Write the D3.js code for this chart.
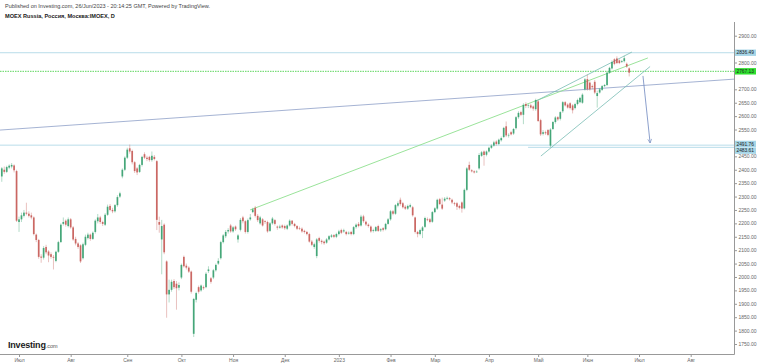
<!DOCTYPE html>
<html>
<head>
<meta charset="utf-8">
<script src="https://cdn.jsdelivr.net/npm/d3@7"></script>
<style>
  body { margin: 0; background: #fff; }
  svg { display: block; font-family: "Liberation Sans", Arial, sans-serif; }
</style>
</head>
<body>
<div id="chart"></div>
<script>
// ---- data ----
var firstDay = "2022-06-22";
var holidays = ["2022-11-04", "2023-01-02", "2023-02-23", "2023-02-24", "2023-03-08",
                "2023-05-01", "2023-05-08", "2023-05-09", "2023-06-12"];
var monthNames = ["Янв", "Фев", "Мар", "Апр", "Май", "Июн", "Июл", "Авг", "Сен", "Окт", "Ноя", "Дек"];
var yTicks = d3.range(1750, 2901, 50);

// daily candles, [open, high, low, close]
var ohlc = [
  [2375,2410,2355,2405],[2400,2412,2385,2392],[2392,2415,2388,2410],[2408,2420,2402,2415],[2412,2425,2405,2418],
  [2416,2420,2390,2398],[2395,2400,2205,2210],[2205,2225,2168,2215],[2215,2240,2205,2230],[2228,2250,2222,2240],
  [2240,2277,2230,2236],[2236,2245,2222,2228],[2230,2240,2215,2222],[2222,2226,2155,2160],[2158,2162,2130,2138],
  [2138,2142,2068,2075],[2076,2085,2053,2072],[2072,2115,2065,2108],[2112,2120,2085,2092],[2095,2100,2055,2080],
  [2085,2092,2068,2075],[2075,2082,2028,2072],[2060,2098,2055,2094],[2094,2135,2090,2130],[2130,2200,2128,2195],
  [2198,2222,2192,2205],[2210,2215,2188,2195],[2190,2222,2185,2215],[2215,2220,2180,2185],[2185,2190,2135,2140],
  [2142,2150,2118,2125],[2125,2130,2105,2112],[2118,2122,2052,2058],[2070,2128,2065,2122],[2120,2158,2115,2150],
  [2145,2165,2140,2158],[2158,2162,2135,2142],[2142,2170,2138,2165],[2168,2215,2162,2210],[2208,2235,2200,2222],
  [2222,2228,2198,2205],[2205,2210,2190,2198],[2195,2238,2190,2232],[2232,2270,2228,2262],[2265,2272,2245,2250],
  [2250,2258,2238,2245],[2245,2272,2240,2268],[2268,2305,2262,2298],[2300,2318,2295,2312],[2375,2405,2368,2400],
  [2400,2450,2395,2445],[2445,2482,2440,2475],[2480,2494,2460,2468],[2470,2475,2420,2428],[2428,2432,2388,2395],
  [2405,2410,2380,2390],[2392,2422,2388,2418],[2418,2452,2412,2448],[2458,2465,2440,2445],[2445,2452,2432,2440],
  [2448,2452,2430,2436],[2436,2468,2430,2452],[2448,2455,2435,2440],[2432,2436,2175,2213],[2205,2225,2165,2195],
  [2140,2213,2010,2190],[2195,2200,2085,2092],[2058,2062,1848,1935],[1935,1990,1905,1952],[1952,1990,1945,1982],
  [1985,1992,1955,1962],[1975,1985,1878,1958],[1960,1980,1950,1970],[1998,2050,1992,2045],[2075,2080,2035,2040],
  [2042,2050,2028,2035],[2035,2040,2015,2020],[2020,2024,1938,1945],[1788,1922,1776,1918],[1915,1945,1905,1940],
  [1962,1968,1938,1945],[1950,1972,1945,1968],[1962,1968,1952,1958],[1962,2018,1958,2012],[2022,2040,2015,2028],
  [1995,2000,1975,1982],[1998,2030,1992,2025],[2025,2050,2020,2045],[2050,2070,2045,2060],[2070,2135,2065,2130],
  [2130,2160,2125,2155],[2152,2175,2145,2168],[2170,2182,2162,2175],[2192,2198,2165,2170],[2170,2190,2165,2185],
  [2188,2192,2172,2178],[2140,2160,2128,2155],[2176,2220,2170,2213],[2222,2228,2200,2208],[2208,2212,2162,2168],
  [2168,2218,2162,2212],[2215,2235,2210,2222],[2242,2258,2238,2252],[2258,2265,2222,2228],[2228,2235,2205,2212],
  [2200,2228,2195,2222],[2215,2220,2188,2192],[2208,2212,2198,2205],[2205,2210,2165,2170],[2172,2205,2168,2200],
  [2200,2224,2195,2218],[2212,2216,2192,2198],[2188,2192,2176,2184],[2184,2195,2180,2188],[2192,2196,2180,2185],
  [2190,2195,2176,2182],[2180,2196,2175,2192],[2192,2215,2188,2210],[2210,2212,2192,2198],[2198,2202,2185,2190],
  [2190,2194,2175,2180],[2182,2188,2175,2180],[2180,2185,2165,2170],[2172,2176,2162,2168],[2168,2172,2155,2160],
  [2160,2165,2128,2132],[2132,2138,2115,2120],[2112,2128,2105,2122],[2078,2145,2070,2140],[2145,2150,2128,2135],
  [2135,2140,2122,2130],[2132,2136,2120,2126],[2128,2145,2124,2140],[2140,2156,2136,2152],[2150,2160,2146,2155],
  [2156,2160,2145,2150],[2150,2165,2145,2160],[2160,2176,2155,2170],[2175,2180,2160,2165],[2170,2180,2165,2174],
  [2168,2172,2155,2160],[2162,2170,2158,2165],[2168,2172,2155,2160],[2160,2190,2156,2186],[2186,2200,2180,2195],
  [2198,2205,2185,2190],[2192,2232,2188,2225],[2226,2232,2202,2208],[2206,2210,2190,2196],[2195,2200,2184,2190],
  [2188,2192,2165,2170],[2172,2180,2166,2175],[2172,2190,2168,2186],[2190,2195,2168,2172],[2174,2182,2168,2178],
  [2182,2186,2170,2176],[2178,2202,2174,2198],[2198,2220,2195,2215],[2215,2250,2210,2245],[2245,2250,2230,2236],
  [2236,2272,2232,2268],[2266,2282,2260,2275],[2288,2296,2266,2272],[2275,2280,2255,2260],[2262,2268,2250,2255],
  [2255,2270,2250,2265],[2262,2274,2258,2268],[2260,2265,2225,2230],[2222,2225,2162,2168],[2168,2172,2148,2160],
  [2160,2180,2155,2175],[2172,2190,2145,2185],[2187,2225,2183,2220],[2215,2222,2208,2212],[2215,2220,2200,2205],
  [2206,2246,2202,2242],[2242,2260,2238,2256],[2255,2292,2250,2288],[2290,2295,2268,2272],[2270,2296,2250,2255],
  [2285,2298,2280,2292],[2292,2300,2288,2295],[2294,2298,2285,2290],[2288,2292,2272,2278],[2275,2280,2266,2272],
  [2275,2280,2250,2262],[2265,2270,2252,2258],[2278,2282,2240,2255],[2256,2330,2252,2325],[2325,2410,2320,2405],
  [2418,2430,2395,2400],[2398,2402,2390,2394],[2394,2398,2386,2390],[2392,2398,2388,2393],[2405,2462,2400,2455],
  [2452,2470,2448,2465],[2468,2472,2415,2455],[2456,2472,2450,2468],[2468,2486,2464,2482],[2482,2495,2478,2490],
  [2490,2508,2486,2502],[2505,2510,2490,2496],[2496,2516,2492,2512],[2510,2524,2505,2518],[2522,2560,2518,2556],
  [2562,2580,2522,2528],[2528,2536,2520,2530],[2540,2545,2528,2532],[2535,2556,2530,2552],[2555,2600,2550,2596],
  [2596,2618,2590,2612],[2615,2620,2600,2605],[2605,2648,2570,2642],[2645,2652,2630,2638],[2638,2645,2630,2640],
  [2640,2646,2628,2632],[2636,2640,2620,2628],[2626,2665,2620,2660],[2655,2660,2578,2582],[2585,2590,2526,2532],
  [2534,2548,2528,2540],[2540,2546,2530,2536],[2548,2552,2525,2530],[2490,2555,2484,2550],[2552,2582,2548,2578],
  [2578,2600,2572,2595],[2596,2600,2582,2588],[2590,2618,2584,2615],[2618,2656,2612,2652],[2652,2656,2636,2640],
  [2643,2648,2628,2632],[2648,2652,2625,2630],[2640,2645,2610,2622],[2630,2650,2625,2645],[2645,2665,2640,2660],
  [2652,2672,2648,2668],[2650,2685,2646,2680],[2700,2742,2695,2737],[2738,2755,2695,2700],[2725,2730,2695,2700],
  [2712,2718,2700,2708],[2728,2735,2682,2688],[2675,2695,2632,2686],[2688,2705,2684,2700],[2698,2716,2694,2712],
  [2712,2720,2708,2716],[2716,2766,2712,2762],[2762,2784,2758,2780],[2778,2808,2774,2802],[2812,2816,2790,2795],
  [2815,2823,2794,2798],[2808,2812,2794,2798],[2802,2810,2798,2805],[2805,2825,2800,2816],[2795,2800,2780,2785],
  [2778,2782,2748,2762]
];

// horizontal levels with price labels on the axis
var levels = [2836.49, 2767.13, 2491.76, 2483.61];
// drawn lines, [bar index, price] end points
var longLine = [[-0.73, 2548], [297.6, 2738]];
var greenLine = [[100.9, 2250], [262.6, 2817]];
var channelTop = [[217.1, 2656], [256.1, 2839]];
var channelBottom = [[219.1, 2451], [263.5, 2785]];
var arrowLine = [[260.6, 2750], [263.5, 2500]];
var shortLevelStart = 213.9;

// ---- layout ----
var width = 758, height = 364;
var plotRight = 734, plotTop = 22, plotBottom = 354;

var svg = d3.select("#chart").append("svg")
    .attr("width", width)
    .attr("height", height);

// trading days (weekdays without exchange holidays)
var parseDay = d3.utcParse("%Y-%m-%d"), fmtDay = d3.utcFormat("%Y-%m-%d");
var days = [];
var d = parseDay(firstDay);
while (days.length < 300) {
    var wd = d.getUTCDay();
    if (wd !== 0 && wd !== 6 && holidays.indexOf(fmtDay(d)) < 0) days.push(d);
    d = d3.utcDay.offset(d, 1);
}

var x = d3.scaleLinear().domain([-0.73, 297.6]).range([0, plotRight]);
var y = d3.scaleLinear().domain([1750, 2900]).range([344, 35.7]);

svg.append("clipPath").attr("id", "clip")
    .append("rect").attr("x", 0).attr("y", plotTop)
    .attr("width", plotRight).attr("height", plotBottom - plotTop);

// ---- header ----
svg.append("text").attr("x", 5).attr("y", 8)
    .attr("font-size", 5.5).attr("fill", "#444")
    .text("Published on Investing.com, 26/Jun/2023 - 20:14:25 GMT, Powered by TradingView.");
svg.append("text").attr("x", 5).attr("y", 18)
    .attr("font-size", 5.6).attr("font-weight", "bold").attr("fill", "#222")
    .text("MOEX Russia, Россия, Москва:IMOEX, D");

var plot = svg.append("g").attr("clip-path", "url(#clip)");

// ---- drawn lines ----
var line = d3.line().x(function (p) { return x(p[0]); }).y(function (p) { return y(p[1]); });

levels.forEach(function (v, i) {
    plot.append("line")
        .attr("x1", i === 3 ? x(shortLevelStart) : 0).attr("x2", plotRight)
        .attr("y1", y(v)).attr("y2", y(v))
        .attr("stroke", i === 1 ? "#5fd65f" : "#a6d3e3")
        .attr("stroke-width", i === 1 ? 1 : 0.8)
        .attr("stroke-dasharray", i === 1 ? "1.5,1" : null);
});

plot.append("path").attr("d", line(longLine))
    .attr("fill", "none").attr("stroke", "#8ea0c8").attr("stroke-width", 0.8);
plot.append("path").attr("d", line(greenLine))
    .attr("fill", "none").attr("stroke", "#8fe08f").attr("stroke-width", 0.9);
plot.append("path").attr("d", line(channelTop))
    .attr("fill", "none").attr("stroke", "#78bcb4").attr("stroke-width", 0.8);
plot.append("path").attr("d", line(channelBottom))
    .attr("fill", "none").attr("stroke", "#78bcb4").attr("stroke-width", 0.8);

svg.append("defs").append("marker")
    .attr("id", "arrow").attr("viewBox", "0 0 10 10")
    .attr("refX", 9).attr("refY", 5)
    .attr("markerWidth", 6).attr("markerHeight", 6)
    .attr("orient", "auto")
    .append("path").attr("d", "M1,1L9,5L1,9")
    .attr("fill", "none").attr("stroke", "#6f88bf").attr("stroke-width", 1.3);
plot.append("path").attr("d", line(arrowLine))
    .attr("fill", "none").attr("stroke", "#6f88bf").attr("stroke-width", 0.8)
    .attr("marker-end", "url(#arrow)");

// ---- candles ----
var upColor = "#37a06f", downColor = "#c65c58";
var candle = plot.selectAll(".candle")
    .data(ohlc)
    .enter()
    .append("g")
    .attr("class", "candle");

candle.append("line")
    .attr("x1", function (c, i) { return x(i); })
    .attr("x2", function (c, i) { return x(i); })
    .attr("y1", function (c) { return y(c[1]); })
    .attr("y2", function (c) { return y(c[2]); })
    .attr("stroke", function (c) { return c[3] >= c[0] ? upColor : downColor; })
    .attr("stroke-opacity", 0.55)
    .attr("stroke-width", 0.7);

candle.append("rect")
    .attr("x", function (c, i) { return x(i) - 0.85; })
    .attr("width", 1.7)
    .attr("y", function (c) { return y(Math.max(c[0], c[3])); })
    .attr("height", function (c) { return Math.max(0.6, Math.abs(y(c[0]) - y(c[3]))); })
    .attr("fill", function (c) { return c[3] >= c[0] ? upColor : downColor; })
    .attr("fill-opacity", 0.9);

// ---- axes ----
svg.append("line").attr("x1", plotRight + 0.5).attr("x2", plotRight + 0.5)
    .attr("y1", plotTop).attr("y2", plotBottom + 0.5)
    .attr("stroke", "#999").attr("stroke-width", 1);
svg.append("line").attr("x1", 0).attr("x2", plotRight + 0.5)
    .attr("y1", plotBottom + 0.5).attr("y2", plotBottom + 0.5)
    .attr("stroke", "#999").attr("stroke-width", 1);

// price ticks hidden where a level label sits on top of them
var shownTicks = yTicks.filter(function (t) {
    return levels.every(function (v) { return Math.abs(y(t) - y(v)) > 6; });
});
var yAxis = svg.append("g")
    .attr("transform", "translate(" + (plotRight + 0.5) + ",0)")
    .call(d3.axisRight(y).tickValues(shownTicks).tickSize(2.5).tickPadding(1.5)
        .tickFormat(d3.format(".2f")));
yAxis.select(".domain").remove();
yAxis.selectAll("line").attr("stroke", "#999");
yAxis.selectAll("text").attr("font-size", 5).attr("fill", "#666")
    .attr("font-family", "'Liberation Sans', Arial, sans-serif");

// month ticks at the first trading day of each month
var monthTicks = [];
for (var i = 1; i < days.length; i++) {
    if (days[i].getUTCMonth() !== days[i - 1].getUTCMonth() && x(i) < plotRight) monthTicks.push(i);
}
var xAxis = svg.append("g")
    .attr("transform", "translate(0," + (plotBottom + 0.5) + ")")
    .call(d3.axisBottom(x).tickValues(monthTicks).tickSize(2.5).tickPadding(1)
        .tickFormat(function (i) {
            var m = days[i].getUTCMonth();
            return m === 0 ? String(days[i].getUTCFullYear()) : monthNames[m];
        }));
xAxis.select(".domain").remove();
xAxis.selectAll("line").attr("stroke", "#999");
xAxis.selectAll("text").attr("font-size", 5).attr("fill", "#666")
    .attr("font-family", "'Liberation Sans', Arial, sans-serif");

// ---- price labels on the axis (stacked when they collide) ----
var boxH = 6.4, gap = 0.3, lastY = -100;
var boxes = levels.map(function (v, i) { return { v: v, i: i, cy: y(v) }; })
    .sort(function (a, b) { return a.cy - b.cy; });
boxes.forEach(function (b, k) {
    if (b.cy < lastY + boxH + gap) {
        boxes[k - 1].cy -= 1.2;
        b.cy = lastY + boxH + gap - 1.2;
    }
    lastY = b.cy;
});
boxes.forEach(function (b) {
    svg.append("rect")
        .attr("x", plotRight + 1).attr("y", b.cy - boxH / 2)
        .attr("width", 21).attr("height", boxH)
        .attr("fill", b.i === 1 ? "#2ee02e" : "#a6d6e8");
    svg.append("text")
        .attr("x", plotRight + 2.5).attr("y", b.cy + 1.7)
        .attr("font-size", 4.8).attr("fill", "#222")
        .text(b.v.toFixed(2));
});

// ---- logo ----
var logo = svg.append("text").attr("x", 8).attr("y", 348).attr("fill", "#1b1b1b");
logo.append("tspan").attr("font-size", 9).attr("font-weight", "bold").attr("letter-spacing", -0.2).text("Investing");
logo.append("tspan").attr("font-size", 5.5).attr("fill", "#555").text(".com");
</script>
</body>
</html>
